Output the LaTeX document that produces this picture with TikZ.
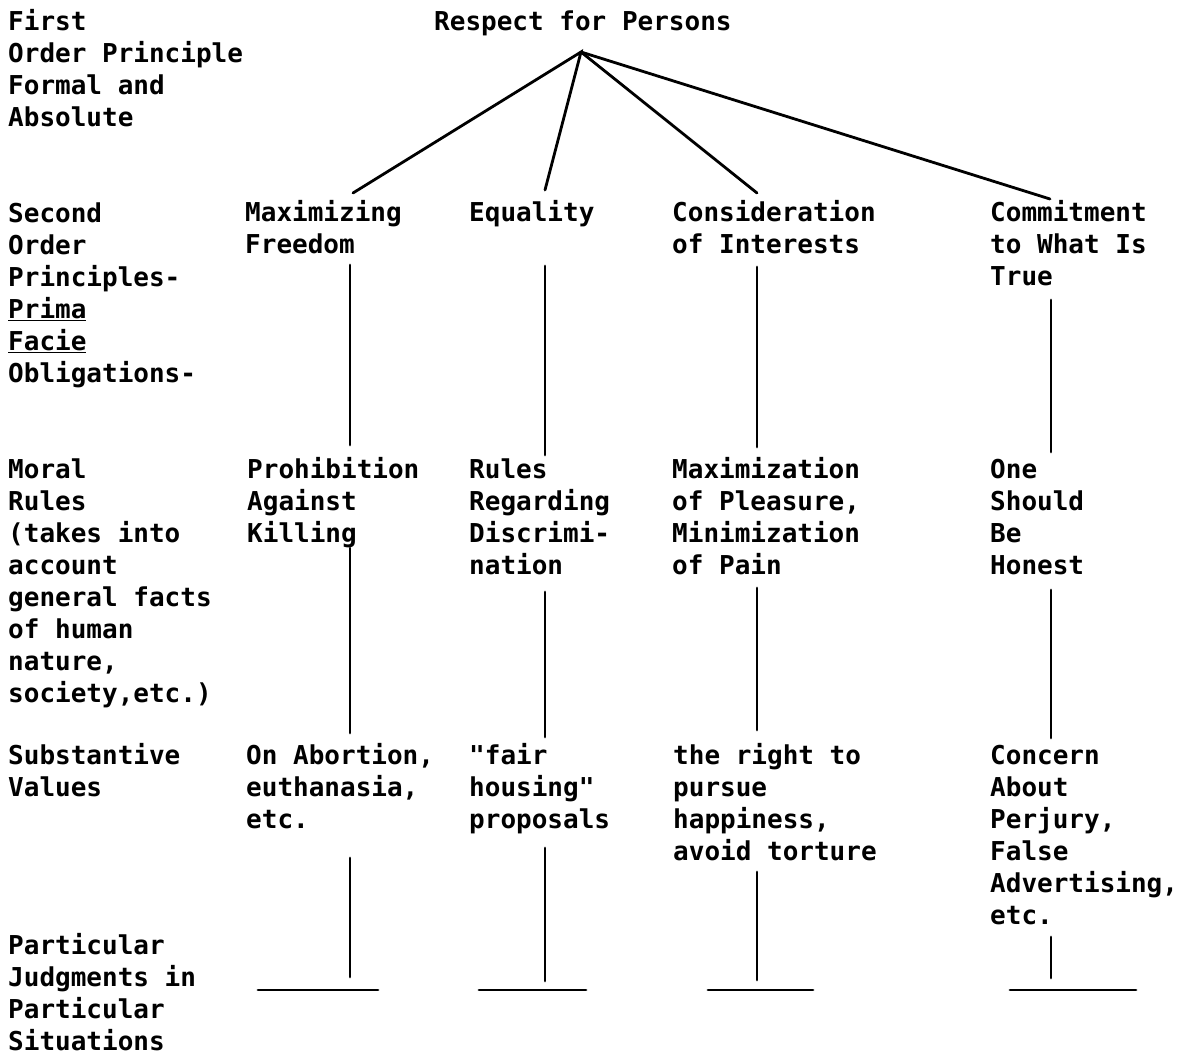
\documentclass[tikz,border=0pt]{standalone}
\usepackage{fontspec}
\newfontfamily\tw{DejaVu Sans Mono Bold}
\begin{document}
\begin{tikzpicture}[x=1pt,y=-1pt,
  txt/.style={anchor=base west,inner sep=0pt,align=left,font=\tw\fontsize{26}{32}\selectfont},
  ln/.style={line width=2.8pt,line cap=round}]
\useasboundingbox (0,0) rectangle (1193,1056);
% left labels (anchor = baseline of last line)
\node[txt] (l1) at (8,127) {First\\Order Principle\\Formal and\\Absolute};
\node[txt] (l2) at (8,382) {Second\\Order\\Principles-\\\underline{Prima}\\\underline{Facie}\\Obligations-};
\node[txt] (l3) at (8,702) {Moral\\Rules\\(takes into\\account\\general facts\\of human\\nature,\\society,etc.)};
\node[txt] (l4) at (8,796) {Substantive\\Values};
\node[txt] (l5) at (8,1050) {Particular\\Judgments in\\Particular\\Situations};
% top
\node[txt] (rp) at (434,31) {Respect for Persons};
% second order
\node[txt] (a1) at (245,254) {Maximizing\\Freedom};
\node[txt] (a2) at (469,222) {Equality};
\node[txt] (a3) at (672,254) {Consideration\\of Interests};
\node[txt] (a4) at (990,286) {Commitment\\to What Is\\True};
% moral rules
\node[txt] (b1) at (247,542) {Prohibition\\Against\\Killing};
\node[txt] (b2) at (469,574) {Rules\\Regarding\\Discrimi-\\nation};
\node[txt] (b3) at (672,574) {Maximization\\of Pleasure,\\Minimization\\of Pain};
\node[txt] (b4) at (990,574) {One\\Should\\Be\\Honest};
% substantive values
\node[txt] (s1) at (246,828) {On Abortion,\\euthanasia,\\etc.};
\node[txt] (s2) at (469,828) {"fair\\housing"\\proposals};
\node[txt] (s3) at (673,860) {the right to\\pursue\\happiness,\\avoid torture};
\node[txt] (s4) at (990,924) {Concern\\About\\Perjury,\\False\\Advertising,\\etc.};
% connector points
\coordinate (apex) at (581,52);
\coordinate (d1) at (353,193);
\coordinate (d2) at (545,190);
\coordinate (d3) at (757,193);
\coordinate (d4) at (1050,199);
\draw[ln] (d1) -- (apex) -- (d2);
\draw[ln] (apex) -- (d3);
\draw[ln] (apex) -- (d4);
% column 1
\coordinate (p1a) at (350,265); \coordinate (p1b) at (350,445);
\coordinate (p1c) at (350,548); \coordinate (p1d) at (350,733);
\coordinate (p1e) at (350,858); \coordinate (p1f) at (350,977);
\coordinate (h1a) at (258,990); \coordinate (h1b) at (378,990);
% column 2
\coordinate (p2a) at (545,266); \coordinate (p2b) at (545,455);
\coordinate (p2c) at (545,592); \coordinate (p2d) at (545,737);
\coordinate (p2e) at (545,848); \coordinate (p2f) at (545,981);
\coordinate (h2a) at (479,990); \coordinate (h2b) at (586,990);
% column 3
\coordinate (p3a) at (757,267); \coordinate (p3b) at (757,447);
\coordinate (p3c) at (757,588); \coordinate (p3d) at (757,730);
\coordinate (p3e) at (757,872); \coordinate (p3f) at (757,980);
\coordinate (h3a) at (708,990); \coordinate (h3b) at (813,990);
% column 4
\coordinate (p4a) at (1051,300); \coordinate (p4b) at (1051,452);
\coordinate (p4c) at (1051,590); \coordinate (p4d) at (1051,738);
\coordinate (p4e) at (1051,937); \coordinate (p4f) at (1051,978);
\coordinate (h4a) at (1010,990); \coordinate (h4b) at (1136,990);
\foreach \c in {1,2,3,4}{
  \draw[ln] (p\c a) -- (p\c b);
  \draw[ln] (p\c c) -- (p\c d);
  \draw[ln] (p\c e) -- (p\c f);
  \draw[ln] (h\c a) -- (h\c b);
}
\end{tikzpicture}
\end{document}
